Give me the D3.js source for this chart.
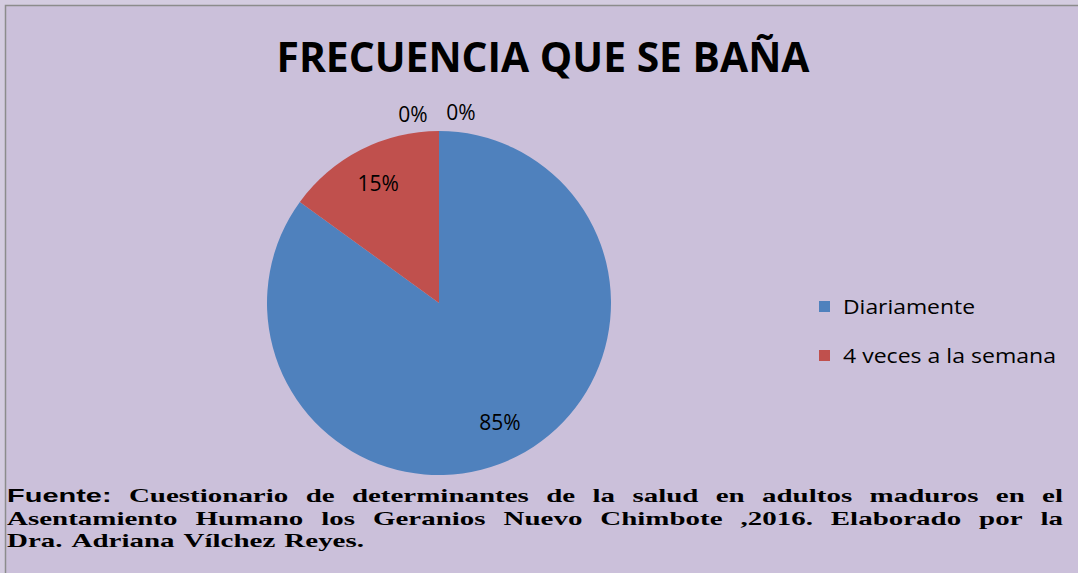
<!DOCTYPE html>
<html>
<head>
<meta charset="utf-8">
<script src="https://cdn.jsdelivr.net/npm/d3@7"></script>
<style>
  html, body { margin: 0; padding: 0; background: #d4cce0; }
  svg { display: block; }
</style>
</head>
<body>
<svg id="chart" width="1078" height="573"></svg>
<script>
// chart data
const title = "FRECUENCIA QUE SE BAÑA";
const categories = ["Diariamente", "4 veces a la semana", "", ""];
const values = [85, 15, 0, 0];
const colors = ["#4f81bd", "#c0504d", "#9bbb59", "#8064a2"];
const footerLines = [
  ["Fuente:", "Cuestionario", "de", "determinantes", "de", "la", "salud", "en", "adultos", "maduros", "en", "el"],
  ["Asentamiento", "Humano", "los", "Geranios", "Nuevo", "Chimbote", ",2016.", "Elaborado", "por", "la"],
  ["Dra.", "Adriana", "Vílchez", "Reyes."]
];

const svg = d3.select("#chart");
const width = 1078, height = 573;

svg.append("rect")
  .attr("x", 5.5).attr("y", 5.5)
  .attr("width", width).attr("height", height)
  .attr("fill", "#cbc0da")
  .attr("stroke", "#8c8c8c")
  .attr("stroke-width", 1.5);

svg.append("text")
  .attr("x", 543).attr("y", 72)
  .attr("text-anchor", "middle")
  .attr("font-family", "Open Sans")
  .attr("font-weight", "bold")
  .attr("font-size", 42)
  .attr("textLength", 533)
  .attr("lengthAdjust", "spacingAndGlyphs")
  .attr("fill", "#000")
  .text(title);

// pie
const cx = 439, cy = 303, radius = 172;
const pie = d3.pie().sort(null).value(d => d)(values);
const arc = d3.arc().innerRadius(0).outerRadius(radius);
const g = svg.append("g").attr("transform", `translate(${cx},${cy})`);

g.selectAll("path.slice")
  .data(pie)
  .join("path")
  .attr("class", "slice")
  .attr("d", arc)
  .attr("fill", (d, i) => colors[i])
  .attr("stroke", "none");

const labelArc = d3.arc().innerRadius(radius * 0.78).outerRadius(radius * 0.78);
const outerArc = d3.arc().innerRadius(radius + 16).outerRadius(radius + 16);
const zeroShift = [-26, 22];
let zeroCount = 0;
g.selectAll("text.lbl")
  .data(pie)
  .join("text")
  .attr("class", "lbl")
  .attr("transform", d => {
    if (d.data === 0) {
      const p = outerArc.centroid(d);
      const s = zeroShift[zeroCount++];
      return `translate(${p[0] + s},${p[1] - (s > 0 ? 2 : 0)})`;
    }
    const p = labelArc.centroid(d);
    return `translate(${p[0]},${p[1]})`;
  })
  .attr("text-anchor", "middle")
  .attr("dy", "0.35em")
  .attr("font-family", "Open Sans")
  .attr("font-size", 21)
  .attr("fill", "#000")
  .text(d => `${d.data}%`);

// legend
const legendItems = categories.map((c, i) => ({ name: c, color: colors[i] })).filter(d => d.name !== "");
const legendWidths = [132, 213];
const legend = svg.append("g");
legendItems.forEach((d, i) => {
  const y = 306 + i * 49;
  legend.append("rect")
    .attr("x", 819).attr("y", y - 5)
    .attr("width", 11).attr("height", 11)
    .attr("fill", d.color);
  legend.append("text")
    .attr("x", 843).attr("y", y + 1)
    .attr("dy", "0.35em")
    .attr("font-family", "Open Sans")
    .attr("font-size", 20.5)
    .attr("textLength", legendWidths[i])
    .attr("lengthAdjust", "spacingAndGlyphs")
    .attr("fill", "#000")
    .text(d.name);
});

// footer: text is stretched wide and justified
const footer = svg.append("g");
const left = 7, right = 1063;
const fontSize = 18;
const lastGap = 9;
const probe = footer.append("text")
  .attr("font-family", "Liberation Serif")
  .attr("font-weight", "bold")
  .attr("font-size", fontSize)
  .text(footerLines[2].join(""));
const sx = (357 - lastGap * 3) / probe.node().getComputedTextLength();
probe.remove();

footerLines.forEach((words, li) => {
  const y = 502 + li * 22.5;
  const nodes = words.map((w, wi) => footer.append("text")
    .attr("font-family", (li === 0 && wi === 0) ? "Liberation Sans" : "Liberation Serif")
    .attr("font-weight", "bold")
    .attr("font-size", fontSize)
    .attr("fill", "#000")
    .text(w));
  const widths = nodes.map(n => n.node().getComputedTextLength() * sx);
  const total = d3.sum(widths);
  const justify = li < footerLines.length - 1;
  const gap = justify ? (right - left - total) / (words.length - 1) : lastGap;
  let x = left;
  nodes.forEach((n, i) => {
    n.attr("transform", `translate(${x},${y}) scale(${sx},1)`);
    x += widths[i] + gap;
  });
});
</script>
</body>
</html>
